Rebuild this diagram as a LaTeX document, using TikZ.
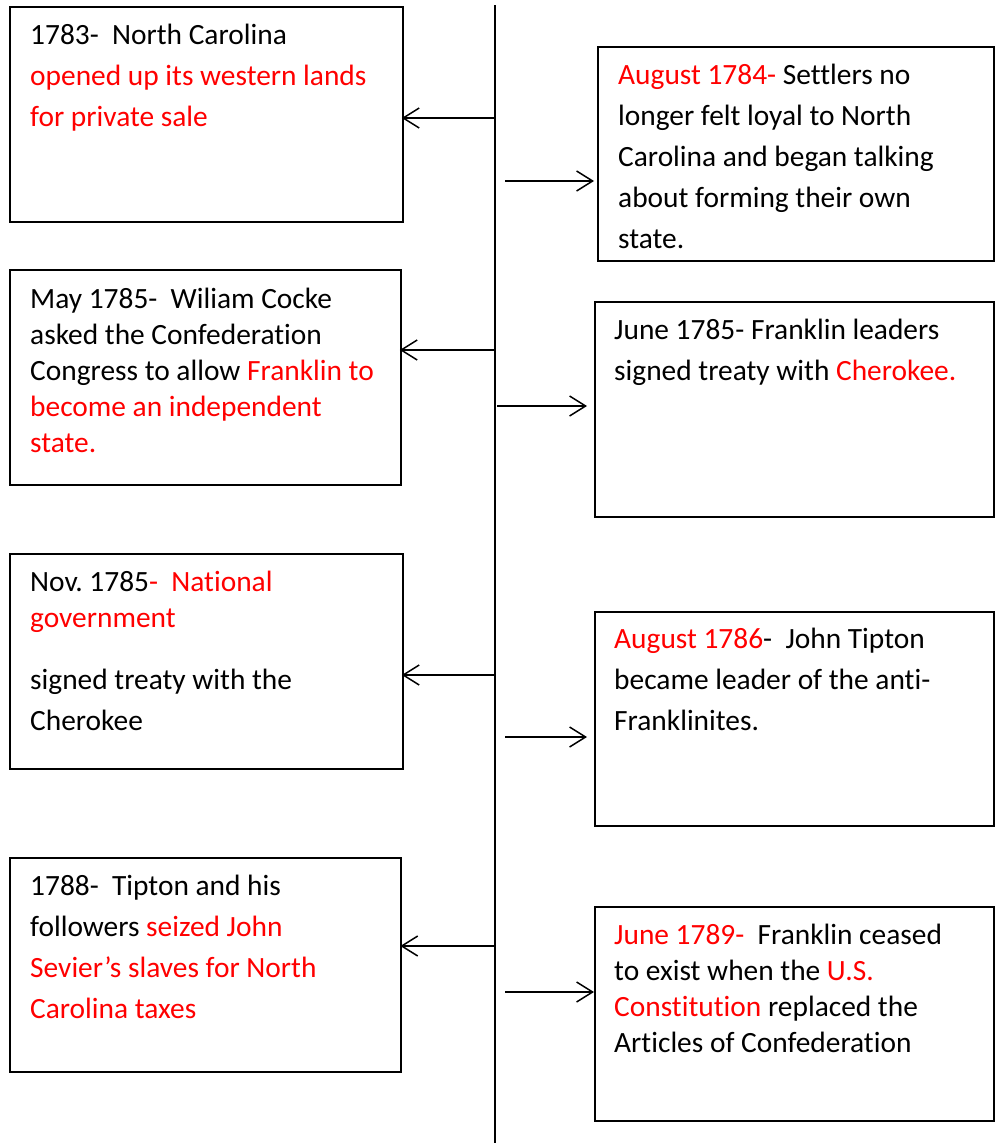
\documentclass[tikz,border=0pt]{standalone}
\usepackage{fontspec}
\setmainfont{Carlito}[Ligatures=NoCommon]
\usetikzlibrary{arrows.meta}
\definecolor{hired}{RGB}{255,0,0}
\newcommand{\rtxt}[1]{\textcolor{hired}{#1}}
\frenchspacing
\begin{document}
\begin{tikzpicture}[x=1pt,y=-1pt,
  box/.style={draw, line width=1.8pt, rectangle, anchor=north west, inner sep=0pt},
  txt/.style={anchor=base west, align=left, inner sep=0pt,
    font=\fontsize{29.4}{41}\selectfont},
  tight/.style={font=\fontsize{29.4}{36}\selectfont},
  spine/.style={line width=2pt},
  arr/.style={line width=1.5pt, -{Straight Barb[length=16pt,width=20pt]}}]
\useasboundingbox (0,0) rectangle (997,1143);
\fill[white] (0,0) rectangle (997,1143);

% spine
\coordinate (top) at (495,5);
\coordinate (bot) at (495,1143);
\draw[spine] (top) -- (bot);

% boxes
\node[box, minimum width=393pt, minimum height=215pt] (b1) at (9,6) {};
\node[box, minimum width=396pt, minimum height=214pt] (b2) at (597,46) {};
\node[box, minimum width=391pt, minimum height=215pt] (b3) at (9,269) {};
\node[box, minimum width=399pt, minimum height=215pt] (b4) at (594,301) {};
\node[box, minimum width=393pt, minimum height=215pt] (b5) at (9,553) {};
\node[box, minimum width=399pt, minimum height=214pt] (b6) at (594,611) {};
\node[box, minimum width=391pt, minimum height=214pt] (b7) at (9,857) {};
\node[box, minimum width=399pt, minimum height=214pt] (b8) at (594,906) {};

% texts (anchored at the baseline of their last line)
\node[txt] (t1) at (30,126) {1783-\ \ North Carolina\\
  \rtxt{opened up its western lands}\\
  \rtxt{for private sale}};
\node[txt] (t2) at (618,248) {\rtxt{August 1784-} Settlers no\\
  longer felt loyal to North\\
  Carolina and began talking\\
  about forming their own\\
  state.};
\node[txt, tight] (t3) at (30,452) {May 1785-\ \ Wiliam Cocke\\
  asked the Confederation\\
  Congress to allow \rtxt{Franklin to}\\
  \rtxt{become an independent}\\
  \rtxt{state.}};
\node[txt] (t4) at (614,380) {June 1785- Franklin leaders\\
  signed treaty with \rtxt{Cherokee.}};
\node[txt, tight] (t5) at (30,730) {Nov. 1785\rtxt{-\ \ National}\\
  \rtxt{government}\\[26pt]
  signed treaty with the\\[5pt]
  Cherokee};
\node[txt] (t6) at (614,730) {\rtxt{August 1786}-\ \ John Tipton\\
  became leader of the anti-\\
  Franklinites.};
\node[txt] (t7) at (30,1018) {1788-\ \ Tipton and his\\
  followers \rtxt{seized John}\\
  \rtxt{Sevier’s slaves for North}\\
  \rtxt{Carolina taxes}};
\node[txt, tight] (t8) at (614,1052) {\rtxt{June 1789-}\ \ Franklin ceased\\
  to exist when the \rtxt{U.S.}\\
  \rtxt{Constitution} replaced the\\
  Articles of Confederation};

% connectors
\coordinate (s1) at (495,118);
\coordinate (s2) at (505,181);
\coordinate (s3) at (495,350);
\coordinate (s4) at (497,406);
\coordinate (s5) at (495,675);
\coordinate (s6) at (505,737);
\coordinate (s7) at (495,946);
\coordinate (s8) at (505,992);
\draw[arr, shorten >=-2pt] (s1) -- (s1 -| b1.east);
\draw[arr, shorten >=3pt] (s2) -- (s2 -| b2.west);
\draw[arr, shorten >=-2pt] (s3) -- (s3 -| b3.east);
\draw[arr, shorten >=7pt] (s4) -- (s4 -| b4.west);
\draw[arr, shorten >=-2pt] (s5) -- (s5 -| b5.east);
\draw[arr, shorten >=7pt] (s6) -- (s6 -| b6.west);
\draw[arr, shorten >=-1.5pt] (s7) -- (s7 -| b7.east);
\draw[arr, shorten >=0pt] (s8) -- (s8 -| b8.west);
\end{tikzpicture}
\end{document}
